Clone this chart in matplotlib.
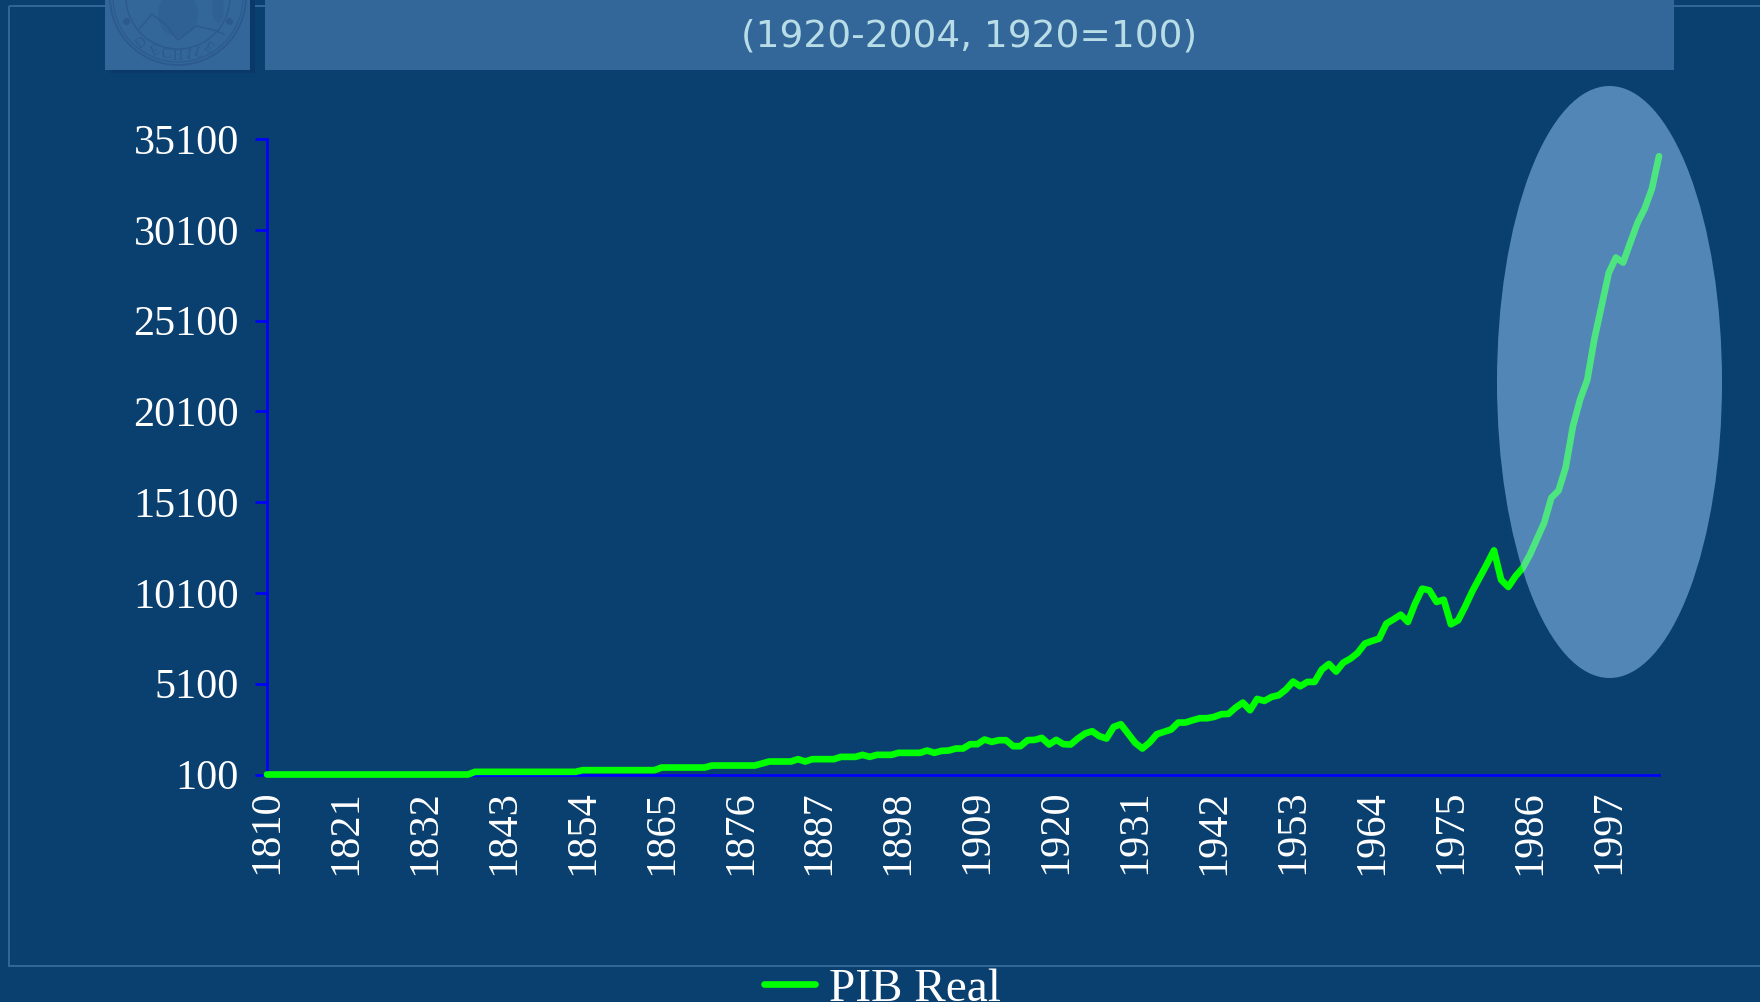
import numpy as np
import matplotlib
matplotlib.use("Agg")
import matplotlib.pyplot as plt
from matplotlib.patches import Rectangle, Ellipse, Circle

W, H = 1760, 1002

years = list(range(1810, 2005))
pib_1810_1911 = [100] * 29 + [247] * 15 + [340] * 11 + [485] * 7 + [595] * 7 + [
    705, 815, 815, 815, 815, 944, 815, 944, 944, 944, 944,
    1072, 1072, 1072, 1182, 1072, 1182, 1182, 1182,
    1292, 1292, 1292, 1292, 1420, 1292, 1402, 1420,
    1531, 1531, 1769, 1769, 2026, 1897]
pib_1912_1981 = [
    1990, 1990, 1659, 1659, 1990, 2007, 2117, 1751, 2007, 1769,
    1751, 2081, 2356, 2484, 2209, 2081, 2723, 2869, 2356, 1842,
    1531, 1861, 2319, 2448, 2576, 2961, 2961, 3089, 3199, 3199,
    3273, 3420, 3438, 3786, 4061, 3640, 4263, 4153, 4373, 4465,
    4777, 5217, 4960, 5199, 5199, 5877, 6189, 5767, 6262, 6482,
    6794, 7308, 7454, 7583, 8408, 8646, 8903, 8500, 9508, 10334,
    10242, 9600, 9729, 8371, 8591, 9362, 10205, 10939, 11673, 12443]
pib_1982_2004 = [
    10822, 10429, 11019, 11471, 12198, 13083, 13967, 15343, 15736, 17013,
    19274, 20748, 21829, 24100, 25900, 27725, 28570, 28295, 29395, 30476,
    31263, 32344, 34152]
pib_real = pib_1810_1911 + pib_1912_1981 + pib_1982_2004

y_ticks = list(range(100, 35101, 5000))
x_ticks = list(range(1810, 1998, 11))
series_label = "PIB Real"
subtitle = "(1920-2004, 1920=100)"
seal_letters = "DECHILE"

BG = "#0A4070"
PANEL = "#336699"
SHADOW = "#0A3868"
SEAL = "#2C5A8E"
SERIF = ["Liberation Serif", "DejaVu Serif"]

fig = plt.figure(figsize=(W / 100, H / 100), dpi=100, facecolor=BG)

# background layer in pixel coordinates
bg = fig.add_axes([0, 0, 1, 1], zorder=0)
bg.set_xlim(0, W)
bg.set_ylim(H, 0)
bg.axis("off")
bg.add_patch(Rectangle((9, 5.5), W + 20, 960.5, fill=False, ec=PANEL, lw=1.4))
bg.add_patch(Rectangle((110, -5), 144.5, 77.7, fc=SHADOW, ec="none"))
bg.add_patch(Rectangle((105, -5), 145, 75, fc=PANEL, ec="none"))
bg.add_patch(Rectangle((265, -5), 1409, 75, fc=PANEL, ec="none"))
bg.text(969, 36, subtitle, color="#B8DDE6", fontsize=27, ha="center", va="center",
        family="DejaVu Sans")

# seal
cx, cy = 178, -3
for r, lw in ((68, 1.3), (65, 0.8), (52, 1.0)):
    bg.add_patch(Circle((cx, cy), r, fill=False, ec=SEAL, lw=lw))
bg.plot([126, 229], [21, 21], ls="none", marker="o", ms=4, color=SEAL)
for ch, ang in zip(seal_letters, (128, 113, 101, 90, 80, 71, 60)):
    a = np.deg2rad(ang)
    bg.text(cx + 59 * np.cos(a), cy + 59 * np.sin(a), ch, color=SEAL, fontsize=10,
            ha="center", va="center", rotation=ang - 90, family=SERIF)
bg.plot([140, 152, 165, 178, 196, 214, 224], [28, 14, 24, 40, 26, 30, 34], color=SEAL, lw=1.0)
bg.add_patch(Ellipse((178, 14), 40, 46, fc=SEAL, ec="none", alpha=0.4))
bg.add_patch(Ellipse((218, 8), 12, 30, fc=SEAL, ec="none", alpha=0.35))

# chart
left, right, top, bottom = 267, 1659, 139, 774.5
ax = fig.add_axes([left / W, 1 - bottom / H, (right - left) / W, (bottom - top) / H], zorder=1)
ax.patch.set_alpha(0)
line, = ax.plot(years, pib_real, color="#00FF00", lw=4.8, solid_capstyle="round",
                solid_joinstyle="round", clip_on=False, label=series_label, zorder=5)
ax.set_xlim(years[0], years[-1])
ax.set_ylim(y_ticks[0], y_ticks[-1])
ax.set_yticks(y_ticks)
ax.set_yticklabels([str(v) for v in y_ticks])
ax.set_xticks(x_ticks)
ax.set_xticklabels([str(v) for v in x_ticks], rotation=90)
for s in ("top", "right"):
    ax.spines[s].set_visible(False)
for s in ("left", "bottom"):
    ax.spines[s].set_color("#0000FF")
    ax.spines[s].set_linewidth(1.9)
ax.tick_params(axis="y", length=8.6, width=1.9, color="#0000FF", labelcolor="white",
               labelsize=30.3, pad=11.5)
ax.tick_params(axis="x", length=0, labelcolor="white", labelsize=30.5, pad=11)
for t in ax.get_xticklabels() + ax.get_yticklabels():
    t.set_fontfamily(SERIF)

leg = ax.legend(handles=[line], loc="center left", bbox_to_anchor=(764 / W, 1 - 989.5 / H),
                bbox_transform=fig.transFigure, frameon=False, borderpad=0, borderaxespad=0,
                handlelength=1.08, handletextpad=0.3,
                prop={"family": SERIF, "size": 34})
for t in leg.get_texts():
    t.set_color("white")

# highlight ellipse over the chart
fg = fig.add_axes([0, 0, 1, 1], zorder=2)
fg.set_xlim(0, W)
fg.set_ylim(H, 0)
fg.axis("off")
fg.add_patch(Ellipse((1609.5, 382), 225, 592, fc="#99CCFF", ec="none", alpha=0.5))

fig.savefig("out.png", dpi=100, facecolor=BG)
